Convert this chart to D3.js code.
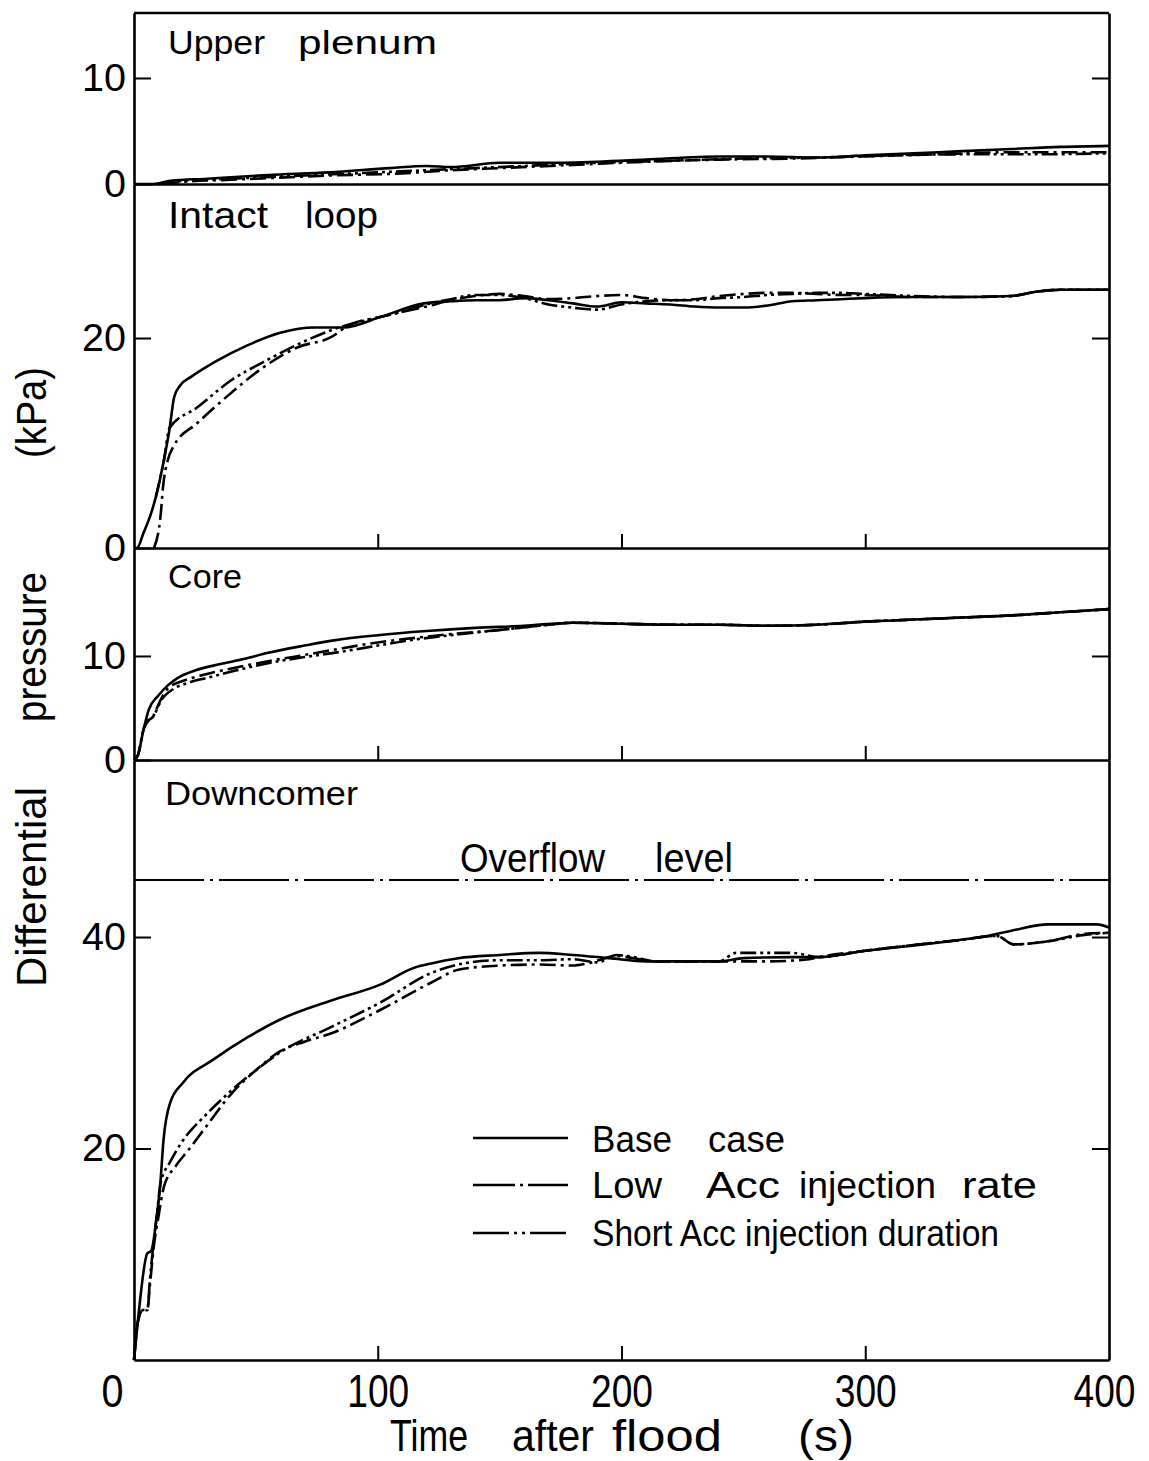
<!DOCTYPE html>
<html><head><meta charset="utf-8">
<script src="https://cdn.jsdelivr.net/npm/d3@7"></script>
<style>
html,body{margin:0;padding:0;background:#fff;}
svg{display:block;}
text{font-family:"Liberation Sans", Arial, sans-serif; fill:#000;}
</style></head><body>
<svg id="c" width="1149" height="1461"></svg>
<script>
// ---------- data ----------
const seriesNames = ["Base case", "Low Acc injection rate", "Short Acc injection duration"];
const timeTicks = [0, 100, 200, 300, 400];
const overflowLevel = 45.4;

const upperTicks = [0, 10];
const intactTicks = [0, 20];
const coreTicks = [0, 10];
const downTicks = [20, 40];

// [time (s), differential pressure (kPa)]
const upperBase = [[0,0],[8,0],[15,0.3],[30,0.5],[55,0.85],[80,1.1],[105,1.5],[120,1.7],[130,1.6],[150,2.0],[170,2.0],[190,2.1],[210,2.3],[240,2.6],[260,2.6],[280,2.5],[300,2.7],[320,2.9],[340,3.1],[360,3.3],[380,3.5],[400,3.6]];
const upperLow = [[12,0],[20,0.2],[40,0.4],[60,0.6],[80,0.8],[110,1.0],[130,1.3],[150,1.5],[180,1.8],[210,2.1],[240,2.3],[270,2.4],[300,2.6],[330,2.8],[360,3.0],[400,3.0]];
const upperShort = [[10,0],[20,0.3],[40,0.5],[70,0.8],[100,1.1],[130,1.4],[160,1.7],[190,2.0],[220,2.2],[250,2.4],[280,2.5],[310,2.7],[340,2.8],[370,2.8],[400,2.9]];

const intactBase = [[0,0],[1.2,0],[4,1.5],[7,3.3],[9,4.9],[12.3,8.4],[14.5,11.2],[16.5,14.4],[19,15.5],[23.4,16.3],[33,17.7],[46.5,19.3],[60,20.5],[74,21.0],[86,21.0],[101,22.0],[119,23.3],[130,23.5],[140,23.6],[150,23.6],[160,23.8],[170,23.6],[180,23.3],[190,23.0],[200,23.4],[210,23.3],[220,23.2],[230,23.0],[240,22.9],[250,22.9],[260,23.1],[270,23.5],[280,23.6],[290,23.7],[300,23.8],[320,23.9],[340,23.9],[360,24.0],[370,24.4],[380,24.6],[400,24.6]];
const intactLow = [[8.2,0],[11,3.3],[11.9,5.8],[13.9,8.4],[16,9.6],[26,11.9],[40,14.8],[53,17.2],[67,19.1],[81,20.1],[88,21.2],[101,22.0],[110,22.5],[120,23.0],[130,23.6],[140,24.0],[150,24.2],[160,24.0],[170,23.7],[180,23.8],[190,24.0],[200,24.1],[210,23.8],[220,23.6],[230,23.7],[240,24.0],[250,24.2],[260,24.3],[270,24.3],[280,24.2],[290,24.1],[300,24.1],[310,24.0],[320,23.9],[340,23.9],[360,24.0],[370,24.4],[380,24.6],[400,24.6]];
const intactShort = [[9,4.9],[12.3,8.4],[14.5,11.4],[26,13.4],[40,16.0],[53,17.7],[71,19.8],[84,21.0],[101,22.0],[110,22.5],[120,23.2],[130,23.7],[140,24.1],[150,24.1],[160,23.8],[170,23.2],[180,22.9],[190,22.7],[200,23.2],[210,23.5],[220,23.6],[230,23.6],[240,23.8],[250,23.9],[260,24.1],[270,24.2],[280,24.3],[290,24.3],[300,24.2],[320,24.0],[340,23.9],[360,24.0],[370,24.4],[380,24.6],[400,24.6]];

const coreBase = [[0,0],[1.5,0.4],[4,3],[6,4.8],[10,6.2],[14,7.2],[18,7.9],[25,8.6],[35,9.2],[45,9.7],[55,10.3],[70,11.0],[82,11.5],[100,12.0],[120,12.4],[140,12.7],[160,12.9],[180,13.2],[200,13.1],[220,13.0],[240,13.0],[260,12.9],[280,13.0],[300,13.3],[320,13.5],[340,13.7],[360,13.9],[380,14.2],[400,14.5]];
const coreLow = [[0,0],[1.5,0.4],[4,3],[5.5,3.8],[7,3.9],[9,4.8],[11,5.8],[14,6.9],[20,7.6],[27,8.1],[40,8.8],[55,9.5],[70,10.1],[82,10.6],[100,11.3],[110,11.6],[130,12.1],[150,12.5],[170,13.0],[180,13.2],[200,13.1],[220,13.0],[240,13.0],[260,12.9],[280,13.0],[300,13.3],[320,13.5],[340,13.7],[360,13.9],[380,14.2],[400,14.5]];
const coreShort = [[0,0],[1.5,0.4],[4,3],[6,3.8],[8,4.2],[10,5.2],[12,6.0],[16,6.8],[22,7.4],[30,7.9],[40,8.5],[55,9.3],[70,9.9],[82,10.3],[100,11.0],[110,11.4],[130,12.0],[150,12.5],[170,13.0],[180,13.2],[200,13.1],[220,13.0],[240,13.0],[260,12.9],[280,13.0],[300,13.3],[320,13.5],[340,13.7],[360,13.9],[380,14.2],[400,14.5]];

const downBase = [[0,0],[1.5,3.5],[5.5,10.1],[7,10.3],[9.5,13.9],[10.7,16.4],[12.1,20.8],[14.8,24.3],[20,26.2],[32.5,28.4],[46.5,30.5],[60,32.2],[81,34.0],[101,35.5],[115,37.1],[122,37.5],[133,38.0],[150,38.3],[166,38.5],[180,38.3],[195,38.0],[210,37.7],[240,37.7],[250,38.0],[270,38.1],[281,38.1],[300,38.7],[320,39.2],[338,39.7],[350,40.1],[360,40.6],[375,41.2],[395,41.2],[400,40.9]];
const downLow = [[0,0],[1.5,3.5],[3.5,4.7],[5.5,4.8],[6.5,7],[8,10.5],[10,13.5],[12.3,16.4],[17,18.3],[22.5,19.9],[30,22.2],[40,25.2],[50,27.4],[60,29.2],[70,30.1],[81,30.9],[101,33.1],[122,35.7],[133,36.9],[150,37.3],[166,37.4],[180,37.3],[186,37.5],[198,38.2],[205,38.0],[214,37.7],[240,37.7],[260,37.7],[277,37.9],[281,38.1],[300,38.7],[338,39.7],[354,40.1],[361,39.3],[375,39.6],[390,40.3],[400,40.4]];
const downShort = [[0,0],[1.5,3.5],[3.5,4.7],[5.5,4.7],[6.5,7.5],[8,11],[9.5,14],[10.9,16.7],[15,18.8],[19.3,20.5],[30,23.3],[40,25.5],[50,27.4],[60,29.1],[81,31.5],[101,33.8],[122,36.6],[133,37.4],[150,37.8],[166,37.8],[180,37.9],[190,37.6],[198,38.3],[205,38.1],[214,37.7],[240,37.7],[247,38.5],[270,38.5],[281,38.1],[300,38.7],[338,39.7],[354,40.1],[361,39.3],[375,39.6],[390,40.2],[400,40.4]];

// ---------- layout / style ----------
const svg = d3.select("#c");
const x = d3.scaleLinear().domain([0, 400]).range([134, 1109]);
const dashes = [null, "16,5,3,5", "16,4,3,4,3,4"];
const legendDashes = [null, "42,5,3,5", "36,5,3,5,3,5"];
const STROKE = 2.6;

const panels = [
  {y: d3.scaleLinear().domain([0, 16.13]).range([184, 13]), ticks: upperTicks, xt: false,
   data: [upperBase, upperLow, upperShort],
   title: [["Upper",168,265],["plenum",298,437]], tb: 54, tfs: 34},
  {y: d3.scaleLinear().domain([0, 34.67]).range([548, 184]), ticks: intactTicks, xt: true,
   data: [intactBase, intactLow, intactShort],
   title: [["Intact",168,268],["loop",305,378]], tb: 228, tfs: 37},
  {y: d3.scaleLinear().domain([0, 20.38]).range([760, 548]), ticks: coreTicks, xt: true,
   data: [coreBase, coreLow, coreShort],
   title: [["Core",168,242]], tb: 588, tfs: 33},
  {y: d3.scaleLinear().domain([0, 56.74]).range([1360, 760]), ticks: downTicks, xt: true,
   data: [downBase, downLow, downShort],
   title: [["Downcomer",165,358]], tb: 805, tfs: 33}
];

function word(g, txt, x1, x2, base, fs) {
  g.append("text").attr("x", x1).attr("y", base).attr("font-size", fs)
    .attr("textLength", x2 - x1).attr("lengthAdjust", "spacingAndGlyphs").text(txt);
}

const line = d3.line().x(d => x(d[0])).curve(d3.curveMonotoneX);

panels.forEach((p, i) => {
  const g = svg.append("g");
  const la = g.append("g").attr("transform", `translate(${x(0)},0)`)
    .call(d3.axisLeft(p.y).tickValues(p.ticks).tickSizeInner(-17).tickSizeOuter(0).tickPadding(8).tickFormat(d3.format("d")));
  la.select(".domain").attr("stroke-width", 2.6);
  la.selectAll(".tick line").attr("stroke-width", 2);
  la.selectAll(".tick text").attr("font-size", 39).attr("font-family", '"Liberation Sans Narrow","Liberation Sans",sans-serif').attr("textLength", d => d >= 10 ? 44 : 22).attr("lengthAdjust","spacingAndGlyphs");
  const ra = g.append("g").attr("transform", `translate(${x(400)},0)`)
    .call(d3.axisRight(p.y).tickValues(p.ticks.filter(v => v > 0)).tickSizeInner(-17).tickSizeOuter(0).tickFormat(""));
  ra.select(".domain").attr("stroke-width", 2.6);
  ra.selectAll(".tick line").attr("stroke-width", 2);
  const bottomY = p.y.range()[0];
  if (i < 3) {
    const ba = g.append("g").attr("transform", `translate(0,${bottomY})`)
      .call(d3.axisBottom(x).tickValues(p.xt ? [100, 200, 300] : []).tickSizeInner(-14).tickSizeOuter(0).tickFormat(""));
    ba.select(".domain").attr("stroke-width", 2.6);
    ba.selectAll(".tick line").attr("stroke-width", 2);
  }
  p.title.forEach(w => word(g, w[0], w[1], w[2], p.tb, p.tfs));
  p.data.forEach((d, k) => {
    g.append("path").datum(d)
      .attr("d", line.y(v => p.y(v[1])))
      .attr("fill", "none").attr("stroke", "#000").attr("stroke-width", STROKE)
      .attr("stroke-linejoin", "round")
      .attr("stroke-dasharray", dashes[k]);
  });
});

// top border
const yTop = panels[0].y;
svg.append("line").attr("x1", x(0)).attr("x2", x(400)).attr("y1", yTop.range()[1]).attr("y2", yTop.range()[1])
  .attr("stroke", "#000").attr("stroke-width", 2.6);

// bottom time axis
const yDown = panels[3].y;
const xa = svg.append("g").attr("transform", `translate(0,${yDown(0)})`)
  .call(d3.axisBottom(x).tickValues(timeTicks).tickSizeInner(-14).tickSizeOuter(0).tickPadding(14).tickFormat(d3.format("d")));
xa.select(".domain").attr("stroke-width", 2.6);
xa.selectAll(".tick line").attr("stroke-width", 2).attr("display", d => (d === 0 || d === 400) ? "none" : null);
xa.selectAll(".tick text").attr("font-size", 46)
  .attr("font-family", '"Liberation Sans Narrow","Liberation Sans",sans-serif')
  .attr("dx", d => d === 0 ? -22 : (d === 400 ? -5 : 0))
  .attr("textLength", d => d === 0 ? 22 : 62).attr("lengthAdjust","spacingAndGlyphs");

// overflow level
svg.append("line").attr("x1", x(0)).attr("x2", x(400))
  .attr("y1", yDown(overflowLevel)).attr("y2", yDown(overflowLevel))
  .attr("stroke", "#000").attr("stroke-width", 2).attr("stroke-dasharray", "70,6,3,6");
word(svg, "Overflow", 460, 605, 872, 40);
word(svg, "level", 655, 733, 872, 40);

// x axis title
word(svg, "Time", 390, 468, 1451, 44);
word(svg, "after", 512, 594, 1451, 44);
word(svg, "flood", 612, 722, 1451, 44);
word(svg, "(s)", 798, 854, 1451, 44);

// y axis title (rotated words)
function vword(txt, yTopPx, yBotPx, fs) {
  svg.append("text").attr("transform", `translate(46,${yBotPx}) rotate(-90)`)
    .attr("font-size", fs).attr("textLength", yBotPx - yTopPx).attr("lengthAdjust", "spacingAndGlyphs").text(txt);
}
vword("(kPa)", 367, 458, 42);
vword("pressure", 572, 722, 42);
vword("Differential", 787, 987, 42);

// legend
const legendY = [1138, 1185, 1233];
const legendWords = [
  [["Base",592,672],["case",708,785]],
  [["Low",592,662],["Acc",706,780],["injection",799,936],["rate",962,1037]],
  [["Short Acc injection duration",592,999]]
];
const legendBase = [1152, 1198, 1246];
seriesNames.forEach((n, k) => {
  svg.append("line").attr("x1", 473).attr("x2", 568).attr("y1", legendY[k]).attr("y2", legendY[k])
    .attr("stroke", "#000").attr("stroke-width", STROKE).attr("stroke-dasharray", legendDashes[k]);
  legendWords[k].forEach(w => word(svg, w[0], w[1], w[2], legendBase[k], 37));
});
</script>
</body></html>
